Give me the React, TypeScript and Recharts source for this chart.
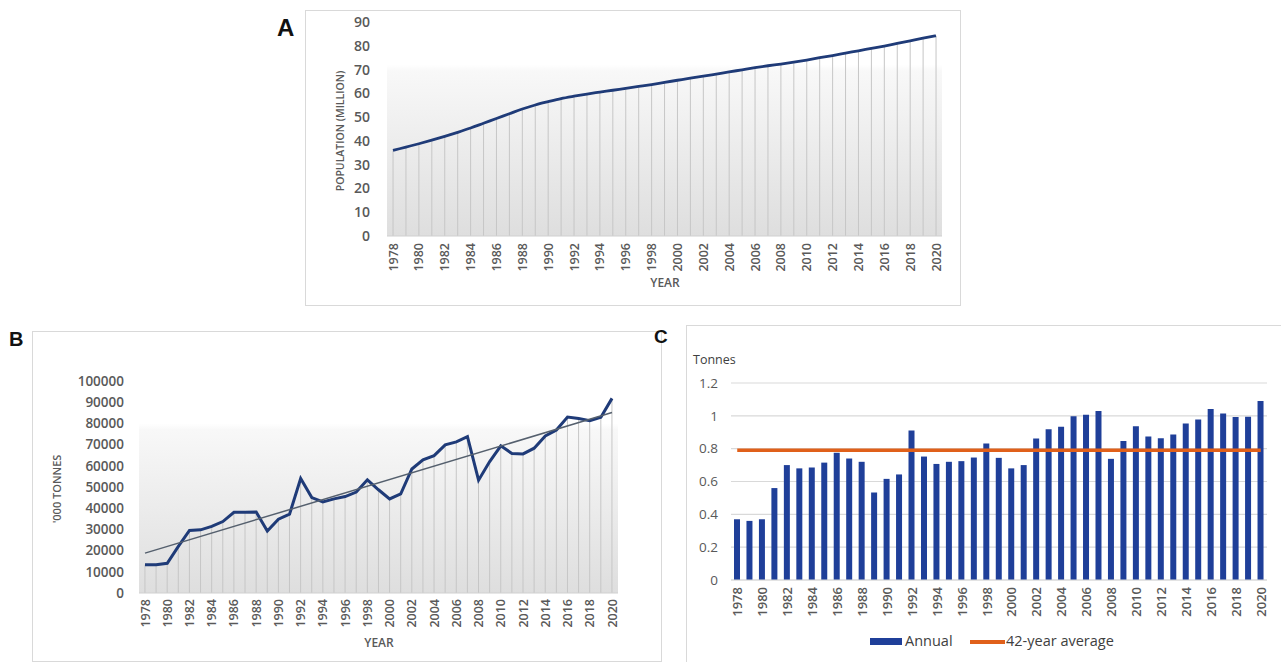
import { ComposedChart, Line, Bar, XAxis, YAxis, CartesianGrid, ReferenceLine } from 'recharts';

const FONT = "'Open Sans', 'Liberation Sans', sans-serif";

const years = [
  1978, 1979, 1980, 1981, 1982, 1983, 1984, 1985, 1986, 1987, 1988, 1989, 1990, 1991, 1992,
  1993, 1994, 1995, 1996, 1997, 1998, 1999, 2000, 2001, 2002, 2003, 2004, 2005, 2006, 2007,
  2008, 2009, 2010, 2011, 2012, 2013, 2014, 2015, 2016, 2017, 2018, 2019, 2020,
];
const yearTicks = [
  1978, 1980, 1982, 1984, 1986, 1988, 1990, 1992, 1994, 1996, 1998, 2000,
  2002, 2004, 2006, 2008, 2010, 2012, 2014, 2016, 2018, 2020,
];

// A: population (million)
const population = [
  36.0, 37.4, 38.8, 40.3, 41.9, 43.6, 45.4, 47.4, 49.4, 51.4, 53.4, 55.1, 56.5, 57.8, 58.8,
  59.7, 60.5, 61.3, 62.1, 62.9, 63.7, 64.6, 65.5, 66.4, 67.2, 68.1, 69.0, 69.9, 70.8, 71.6,
  72.3, 73.1, 74.0, 75.0, 75.9, 76.9, 77.9, 78.9, 79.9, 81.0, 82.1, 83.2, 84.2,
];
const popTicks = [0, 10, 20, 30, 40, 50, 60, 70, 80, 90];

// B: production ('000 tonnes) + linear trend end points
const production = [
  13300, 13300, 14000, 22000, 29500, 29800, 31400, 33700, 38100, 38100, 38200, 29200, 34800,
  37200, 54000, 45000, 43000, 44400, 45500, 47600, 53400, 48700, 44400, 46800, 58500, 62800,
  64800, 69900, 71300, 73800, 53200, 62000, 69400, 65800, 65600, 68300, 74100, 76900, 83000,
  82300, 81300, 82900, 91800,
];
const prodTicks = [0, 10000, 20000, 30000, 40000, 50000, 60000, 70000, 80000, 90000, 100000];
const trendStart = 18800;
const trendEnd = 85100;

// C: per capita (tonnes)
const perCapita = [
  0.37, 0.36, 0.37, 0.56, 0.70, 0.68, 0.685, 0.715, 0.775, 0.74, 0.72, 0.533, 0.616, 0.643,
  0.91, 0.752, 0.707, 0.72, 0.724, 0.746, 0.831, 0.744, 0.68, 0.70, 0.862, 0.918, 0.933,
  0.997, 1.007, 1.03, 0.738, 0.847, 0.937, 0.874, 0.864, 0.886, 0.953, 0.977, 1.042, 1.014,
  0.993, 0.995, 1.09,
];
const average42 = 0.79;
const perCapitaTicks = [0, 0.2, 0.4, 0.6, 0.8, 1, 1.2];

const popData = years.map((year, i) => ({ year, pop: population[i] }));
const prodData = years.map((year, i) => ({ year, prod: production[i] }));
const capData = years.map((year, i) => ({ year: String(year), annual: perCapita[i], avg: average42 }));

const YearTick = ({ x, y, payload, size = 12.5 }: any) => (
  <text
    x={x}
    y={y}
    transform={`rotate(-90 ${x} ${y})`}
    textAnchor="end"
    dominantBaseline="central"
    fill="#595959"
    fontSize={size}
    fontWeight={600}
    fontFamily={FONT}
  >
    {payload.value}
  </text>
);

const box = (left: number, top: number, width: number, height: number): React.CSSProperties => ({
  position: 'absolute', left, top, width, height, border: '1.5px solid #d9d9d9', boxSizing: 'border-box',
});

const txt = (extra: React.CSSProperties): React.CSSProperties => ({
  position: 'absolute', fontFamily: FONT, color: '#595959', whiteSpace: 'nowrap', lineHeight: 1, ...extra,
});

const Backdrop = ({ id }: { id: string }) => (
  <defs>
    <linearGradient id={id} x1="0" y1="0" x2="0" y2="1">
      <stop offset="0" stopColor="#ffffff" />
      <stop offset="0.2" stopColor="#ffffff" />
      <stop offset="0.23" stopColor="#f8f8f8" />
      <stop offset="1" stopColor="#dedede" />
    </linearGradient>
  </defs>
);

function PanelA() {
  return (
    <div style={{ position: 'absolute', left: 305, top: 10 }}>
      <ComposedChart width={656} height={296} data={popData} margin={{ top: 12, right: 19, bottom: 10, left: 32 }}>
        <Backdrop id="bgA" />
        <CartesianGrid horizontal={false} vertical={false} fill="url(#bgA)" />
        <XAxis
          dataKey="year" type="number" domain={[1978, 2020]} ticks={yearTicks} interval={0}
          padding={{ left: 6, right: 6 }} height={60} tickSize={0} tickMargin={7}
          axisLine={{ stroke: '#d0d0d0' }} tick={<YearTick size={12.5} />}
        />
        <YAxis
          domain={[0, 90]} ticks={popTicks} width={50} tickSize={0} tickMargin={17} axisLine={false}
          tick={{ fill: '#595959', fontSize: 14, fontWeight: 600, fontFamily: FONT }}
        />
        <Bar dataKey="pop" barSize={1} fill="#c6c6c6" isAnimationActive={false} />
        <Line dataKey="pop" type="monotone" stroke="#1f3b78" strokeWidth={2.8} dot={false} isAnimationActive={false} />
      </ComposedChart>
    </div>
  );
}

function PanelB() {
  return (
    <div style={{ position: 'absolute', left: 32, top: 331 }}>
      <ComposedChart width={630} height={330} data={prodData} margin={{ top: 50, right: 44, bottom: 8, left: 37 }}>
        <Backdrop id="bgB" />
        <CartesianGrid horizontal={false} vertical={false} fill="url(#bgB)" />
        <XAxis
          dataKey="year" type="number" domain={[1978, 2020]} ticks={yearTicks} interval={0}
          padding={{ left: 6, right: 6 }} height={60} tickSize={0} tickMargin={6}
          axisLine={{ stroke: '#d0d0d0' }} tick={<YearTick size={12.5} />}
        />
        <YAxis
          domain={[0, 100000]} ticks={prodTicks} width={70} tickSize={0} tickMargin={15} axisLine={false}
          tick={{ fill: '#595959', fontSize: 13.5, fontWeight: 600, fontFamily: FONT }}
        />
        <Bar dataKey="prod" barSize={1} fill="#c6c6c6" isAnimationActive={false} />
        <Line dataKey="prod" type="linear" stroke="#1f3b78" strokeWidth={3} dot={false} isAnimationActive={false} />
        <ReferenceLine
          segment={[{ x: 1978, y: trendStart }, { x: 2020, y: trendEnd }]}
          stroke="#55606e" strokeWidth={1.5}
        />
      </ComposedChart>
    </div>
  );
}

function PanelC() {
  return (
    <div style={{ position: 'absolute', left: 686, top: 325 }}>
      <ComposedChart width={594} height={337} data={capData} margin={{ top: 58, right: 13, bottom: 32, left: 5 }}>
        <CartesianGrid vertical={false} stroke="#d9d9d9" strokeWidth={1.2} />
        <XAxis
          dataKey="year" interval={1} height={50} tickSize={0} tickMargin={7}
          axisLine={{ stroke: '#d9d9d9' }} tick={<YearTick size={13} />}
        />
        <YAxis
          domain={[0, 1.2]} ticks={perCapitaTicks} width={40} tickSize={0} tickMargin={13} axisLine={false}
          tick={{ fill: '#595959', fontSize: 13.5, fontFamily: FONT }}
        />
        <Bar dataKey="annual" name="Annual" barSize={6} fill="#1f3f99" isAnimationActive={false} />
        <Line dataKey="avg" name="42-year average" type="linear" stroke="#e0601a" strokeWidth={3.5} dot={false} isAnimationActive={false} />
      </ComposedChart>
    </div>
  );
}

export default function App() {
  return (
    <div style={{ position: 'absolute', left: 0, top: 0, width: 1281, height: 662, background: '#fff', overflow: 'hidden' }}>
      <div style={box(305, 10, 656, 296)} />
      <div style={box(32, 331, 630, 331)} />
      <div style={box(686, 325, 596, 338)} />

      <PanelA />
      <PanelB />
      <PanelC />

      <div style={txt({ left: 277, top: 16, fontSize: 24, fontWeight: 700, color: '#111', fontFamily: "'Liberation Sans', sans-serif" })}>A</div>
      <div style={txt({ left: 9, top: 329, fontSize: 20, fontWeight: 700, color: '#111', fontFamily: "'Liberation Sans', sans-serif" })}>B</div>
      <div style={txt({ left: 654, top: 327, fontSize: 19, fontWeight: 700, color: '#111', fontFamily: "'Liberation Sans', sans-serif" })}>C</div>

      <div style={txt({ left: 340, top: 131, fontSize: 10.5, fontWeight: 600, transform: 'translate(-50%, -50%) rotate(-90deg)' })}>
        POPULATION (MILLION)
      </div>
      <div style={txt({ left: 665, top: 283, fontSize: 12, fontWeight: 600, transform: 'translate(-50%, -50%)' })}>YEAR</div>

      <div style={txt({ left: 56, top: 489, fontSize: 11, fontWeight: 600, transform: 'translate(-50%, -50%) rotate(-90deg)' })}>
        '000 TONNES
      </div>
      <div style={txt({ left: 379, top: 643, fontSize: 12, fontWeight: 600, transform: 'translate(-50%, -50%)' })}>YEAR</div>

      <div style={txt({ left: 693, top: 354, fontSize: 12.5, color: '#404040' })}>Tonnes</div>

      <div style={{ position: 'absolute', left: 870, top: 638, width: 32, height: 7, background: '#1f3f99' }} />
      <div style={txt({ left: 905, top: 634, fontSize: 14.5, color: '#404040' })}>Annual</div>
      <div style={{ position: 'absolute', left: 970, top: 640, width: 35, height: 3.5, background: '#e0601a' }} />
      <div style={txt({ left: 1006, top: 634, fontSize: 14.5, color: '#404040' })}>42-year average</div>
    </div>
  );
}
